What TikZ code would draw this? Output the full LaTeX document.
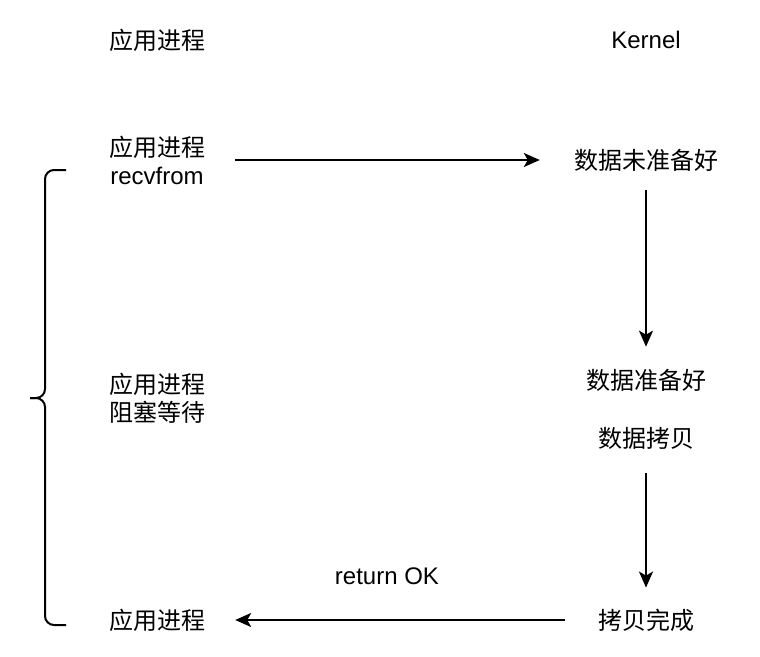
\documentclass[tikz,border=0pt]{standalone}
\usepackage{fontspec}
\setmainfont{Liberation Sans}
\newfontfamily\cjk{Noto Sans CJK SC}
\usetikzlibrary{arrows.meta}
\begin{document}
\begin{tikzpicture}[x=1pt,y=-1pt,
  lbl/.style={align=center, inner sep=2pt, font=\fontsize{24}{29}\selectfont},
  cn/.style={lbl, font=\fontsize{24}{28}\selectfont\cjk},
  flow/.style={-{Stealth[length=16pt,width=14pt,inset=4pt]}, line width=2pt},
  brace/.style={line width=2pt, rounded corners=9pt}]
\useasboundingbox (0,0) rectangle (760,656);
% left column: the process
\node[cn] (app0) at (157,40){应用进程};
\node[cn] (app1) at (157,160){应用进程\\{\rmfamily recvfrom}};
\node[cn] (app2) at (157,398){应用进程\\阻塞等待};
\node[cn] (app3) at (157,620){应用进程};
% right column: the kernel
\node[lbl] (kernel) at (646,40){Kernel};
\node[cn] (notready) at (646,160){数据未准备好};
\node[cn] (ready) at (646,380){数据准备好};
\node[cn] (copy) at (646,438){数据拷贝};
\node[cn] (done) at (646,620){拷贝完成};
\node[lbl] (retok) at (387,576){return OK};
\draw[flow, shorten <=28pt, shorten >=32pt](app1.east) -- (notready.west);
\draw[flow, shorten <=17pt, shorten >=20pt](notready.south) -- (ready.north);
\draw[flow, shorten <=22pt, shorten >=19pt](copy.south) -- (done.north);
\draw[flow, shorten <=31pt, shorten >=28pt](done.west) -- (app3.east);
% the brace
\draw[brace] (66,170) -- (45,170) -- (45,398) -- (30,398);
\draw[brace] (66,625) -- (45,625) -- (45,398) -- (30,398);
\end{tikzpicture}
\end{document}
